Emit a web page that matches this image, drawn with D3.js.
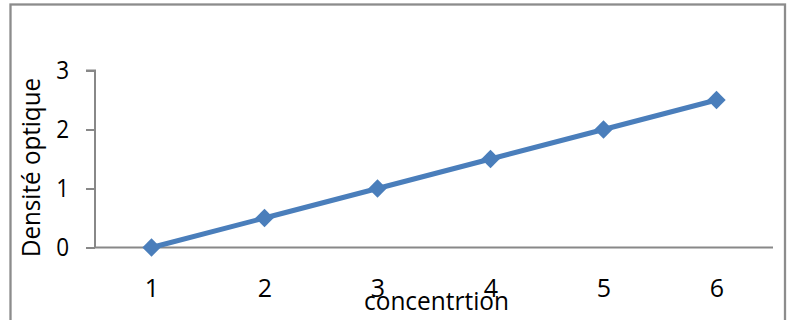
<!DOCTYPE html>
<html><head><meta charset="utf-8">
<script src="https://cdn.jsdelivr.net/npm/d3@7"></script>
<style>body{margin:0;background:#fff;}svg{display:block;}</style>
</head><body>
<svg id="c" width="791" height="320"></svg>
<script>
const categories = ["1","2","3","4","5","6"];
const values = [0, 0.5, 1, 1.5, 2, 2.5];
const yTicks = [0, 1, 2, 3];
const xTitle = "concentrtion";
const yTitle = "Densité optique";

(function(){
const svg = d3.select("#c");
const font = "'Open Sans', 'Noto Sans', sans-serif";
const fs = 25;
svg.append("rect").attr("x",10.5).attr("y",4.5).attr("width",774.5).attr("height",330)
  .attr("fill","#fff").attr("stroke","#8c8c8c").attr("stroke-width",2.3);

const mL = 95, mR = 773, mT = 70.5, mB = 247.5;
const x = d3.scalePoint().domain(categories).range([mL, mR]).padding(0.5);
const y = d3.scaleLinear().domain([0, 3]).range([mB, mT]);

const yAxis = svg.append("g").attr("transform",`translate(${mL},0)`)
  .call(d3.axisLeft(y).tickValues(yTicks).tickSize(9).tickPadding(17).tickFormat(d3.format("d")));
yAxis.select(".domain").attr("stroke","#888").attr("stroke-width",2).attr("d",`M-9,${mT}H0V${mB}`);
yAxis.selectAll(".tick line").attr("stroke","#888").attr("stroke-width",2);
yAxis.selectAll(".tick text").attr("font-family",font).attr("font-size",fs).attr("fill","#000")
  .attr("transform","scale(0.9,1)").attr("x",-26/0.9);

const xAxis = svg.append("g").attr("transform",`translate(0,${mB})`)
  .call(d3.axisBottom(x).tickSize(0).tickPadding(32));
xAxis.select(".domain").attr("stroke","#888").attr("stroke-width",2).attr("d",`M${mL},0H${mR}`);
xAxis.selectAll(".tick text").attr("font-family",font).attr("font-size",fs).attr("fill","#000");

const line = d3.line().x((d,i)=>x(categories[i])).y(d=>y(d));
svg.append("path").datum(values).attr("d",line).attr("fill","none")
  .attr("stroke","#4a7ebb").attr("stroke-width",5).attr("stroke-linejoin","round");
svg.selectAll(".m").data(values).join("path")
  .attr("transform",(d,i)=>`translate(${x(categories[i])},${y(d)})`)
  .attr("d",d3.symbol().type(d3.symbolDiamond2).size(215))
  .attr("fill","#4a7ebb");

svg.append("text").attr("x",436.5).attr("y",310).attr("text-anchor","middle")
  .attr("font-family",font).attr("font-size",fs).attr("fill","#000")
  .attr("textLength",145).attr("lengthAdjust","spacingAndGlyphs").text(xTitle);
svg.append("text").attr("transform",`translate(40,167.5) rotate(-90)`).attr("text-anchor","middle")
  .attr("font-family",font).attr("font-size",fs).attr("fill","#000")
  .attr("textLength",179).attr("lengthAdjust","spacingAndGlyphs").text(yTitle);
})();
</script>
</body></html>
